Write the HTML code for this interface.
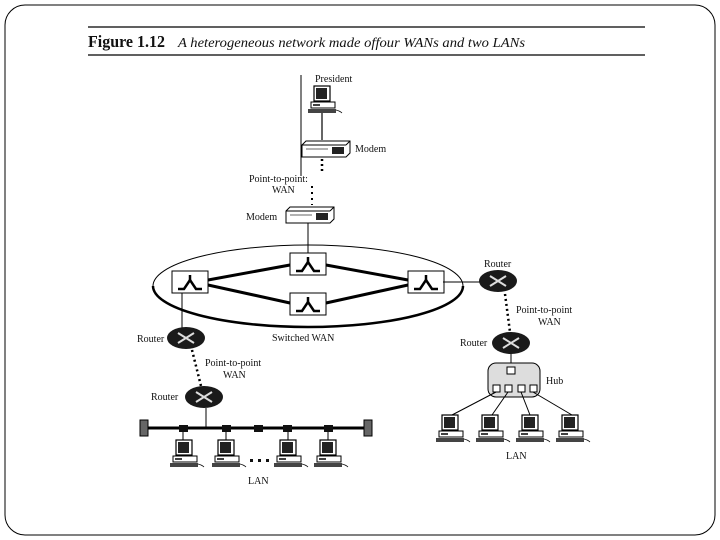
<!DOCTYPE html>
<html><head><meta charset="utf-8"><style>
html,body{margin:0;padding:0;background:#fff;}
svg{display:block;}
text{font-family:"Liberation Serif",serif;fill:#111;}
</style></head><body>
<svg width="720" height="540" viewBox="0 0 720 540" xmlns="http://www.w3.org/2000/svg">
<defs>
<g id="pc">
  <rect x="6" y="0" width="16" height="15" fill="#fff" stroke="#000" stroke-width="1.2"/>
  <rect x="8" y="2" width="11" height="11" fill="#222"/>
  <rect x="3" y="16" width="24" height="6" fill="#fff" stroke="#000" stroke-width="1"/>
  <line x1="5" y1="19" x2="12" y2="19" stroke="#000" stroke-width="1.5"/>
  <rect x="0" y="23" width="28" height="4" fill="#444"/>
  <path d="M28 24 q4 1 6 3" stroke="#000" fill="none" stroke-width="0.8"/>
</g>
<g id="sw">
  <rect x="0" y="0" width="36" height="22" fill="#fff" stroke="#000" stroke-width="1"/>
  <path d="M6 18 L12 18 L18 9 L24 18 L30 18" stroke="#000" stroke-width="2.5" fill="none"/>
  <line x1="18" y1="4" x2="18" y2="10" stroke="#000" stroke-width="2.5"/>
</g>
<g id="rt">
  <ellipse cx="0" cy="0" rx="19" ry="11" fill="#1a1a1a"/>
  <path d="M-8 -5 L8 5 M-8 5 L8 -5" stroke="#ddd" stroke-width="2"/>
</g>
<g id="modem">
  <path d="M0 4 L4 0 L48 0 L48 12 L44 16 L0 16 Z" fill="#fff" stroke="#000" stroke-width="1"/>
  <line x1="0" y1="4" x2="44" y2="4" stroke="#000"/>
  <line x1="44" y1="4" x2="48" y2="0" stroke="#000"/>
  <rect x="30" y="6" width="12" height="7" fill="#222"/>
  <line x1="4" y1="8" x2="26" y2="8" stroke="#666" stroke-width="1"/>
</g>
</defs>
<rect x="5" y="5" width="710" height="530" rx="20" fill="none" stroke="#000" stroke-width="1"/>
<line x1="88" y1="27" x2="645" y2="27" stroke="#000" stroke-width="1.2"/>
<line x1="88" y1="55" x2="645" y2="55" stroke="#000" stroke-width="1.2"/>
<text x="88" y="47" font-size="17" font-weight="bold" textLength="77" lengthAdjust="spacingAndGlyphs">Figure 1.12</text>
<text x="178" y="47" font-size="14" font-style="italic" textLength="347" lengthAdjust="spacingAndGlyphs">A heterogeneous network made offour WANs and two LANs</text>

<line x1="301" y1="75" x2="301" y2="176" stroke="#000" stroke-width="1"/>
<text x="315" y="82" font-size="10">President</text>
<use href="#pc" x="308" y="86"/>
<line x1="322" y1="113" x2="322" y2="140" stroke="#000" stroke-width="1.2"/>
<use href="#modem" x="302" y="141"/>
<text x="355" y="152" font-size="10">Modem</text>
<line x1="322" y1="159" x2="322" y2="173" stroke="#000" stroke-width="2.5" stroke-dasharray="2,3"/>
<line x1="312" y1="186" x2="312" y2="205" stroke="#000" stroke-width="2" stroke-dasharray="2,4"/>
<text x="249" y="182" font-size="10">Point-to-point:</text>
<text x="272" y="193" font-size="10">WAN</text>
<use href="#modem" x="286" y="207"/>
<text x="246" y="220" font-size="10">Modem</text>
<line x1="308" y1="223" x2="308" y2="253" stroke="#000" stroke-width="1"/>

<ellipse cx="308" cy="286" rx="155" ry="41" fill="none" stroke="#000" stroke-width="1"/>
<path d="M153 286 A155 41 0 0 0 463 286" fill="none" stroke="#000" stroke-width="2.5"/>
<g stroke="#000" stroke-width="3">
<line x1="208" y1="280" x2="290" y2="265"/>
<line x1="326" y1="265" x2="408" y2="280"/>
<line x1="208" y1="285" x2="290" y2="303"/>
<line x1="326" y1="303" x2="408" y2="285"/>
</g>
<use href="#sw" x="290" y="253"/>
<use href="#sw" x="172" y="271"/>
<use href="#sw" x="408" y="271"/>
<use href="#sw" x="290" y="293"/>
<text x="272" y="341" font-size="10">Switched WAN</text>

<line x1="443" y1="282" x2="480" y2="282" stroke="#000" stroke-width="1"/>
<use href="#rt" x="498" y="281"/>
<text x="484" y="267" font-size="10">Router</text>
<line x1="505" y1="294" x2="510" y2="332" stroke="#000" stroke-width="2.5" stroke-dasharray="2,3"/>
<text x="516" y="313" font-size="10">Point-to-point</text>
<text x="538" y="325" font-size="10">WAN</text>
<use href="#rt" x="511" y="343"/>
<text x="460" y="346" font-size="10">Router</text>
<line x1="511" y1="354" x2="511" y2="370" stroke="#000" stroke-width="1"/>
<rect x="488" y="363" width="52" height="34" rx="8" fill="#ddd" stroke="#000" stroke-width="1"/>
<rect x="507" y="367" width="8" height="7" fill="#fff" stroke="#000"/>
<g fill="#fff" stroke="#000"><rect x="493" y="385" width="7" height="7"/><rect x="505" y="385" width="7" height="7"/><rect x="518" y="385" width="7" height="7"/><rect x="530" y="385" width="7" height="7"/></g>
<text x="546" y="384" font-size="10">Hub</text>
<g stroke="#000" stroke-width="1"><line x1="496" y1="392" x2="452" y2="415"/><line x1="508" y1="392" x2="492" y2="415"/><line x1="521" y1="392" x2="530" y2="415"/><line x1="533" y1="392" x2="572" y2="415"/></g>
<use href="#pc" x="436" y="415"/><use href="#pc" x="476" y="415"/><use href="#pc" x="516" y="415"/><use href="#pc" x="556" y="415"/>
<text x="506" y="459" font-size="10">LAN</text>

<line x1="182" y1="293" x2="182" y2="330" stroke="#000" stroke-width="1"/>
<use href="#rt" x="186" y="338"/>
<text x="137" y="342" font-size="10">Router</text>
<line x1="192" y1="350" x2="201" y2="386" stroke="#000" stroke-width="2.5" stroke-dasharray="2,3"/>
<text x="205" y="366" font-size="10">Point-to-point</text>
<text x="223" y="378" font-size="10">WAN</text>
<use href="#rt" x="204" y="397"/>
<text x="151" y="400" font-size="10">Router</text>
<line x1="206" y1="408" x2="206" y2="428" stroke="#000" stroke-width="1"/>
<line x1="148" y1="428" x2="366" y2="428" stroke="#000" stroke-width="3"/>
<rect x="140" y="420" width="8" height="16" fill="#666" stroke="#000"/>
<rect x="364" y="420" width="8" height="16" fill="#666" stroke="#000"/>
<g fill="#111"><rect x="179" y="425" width="9" height="7"/><rect x="222" y="425" width="9" height="7"/><rect x="254" y="425" width="9" height="7"/><rect x="283" y="425" width="9" height="7"/><rect x="324" y="425" width="9" height="7"/></g>
<g stroke="#000" stroke-width="1"><line x1="183" y1="432" x2="183" y2="440"/><line x1="226" y1="432" x2="226" y2="440"/><line x1="288" y1="432" x2="288" y2="440"/><line x1="328" y1="432" x2="328" y2="440"/></g>
<use href="#pc" x="170" y="440"/><use href="#pc" x="212" y="440"/><use href="#pc" x="274" y="440"/><use href="#pc" x="314" y="440"/>
<g fill="#111"><rect x="250" y="459" width="3" height="3"/><rect x="258" y="459" width="3" height="3"/><rect x="266" y="459" width="3" height="3"/></g>
<text x="248" y="484" font-size="10">LAN</text>
</svg>
</body></html>
